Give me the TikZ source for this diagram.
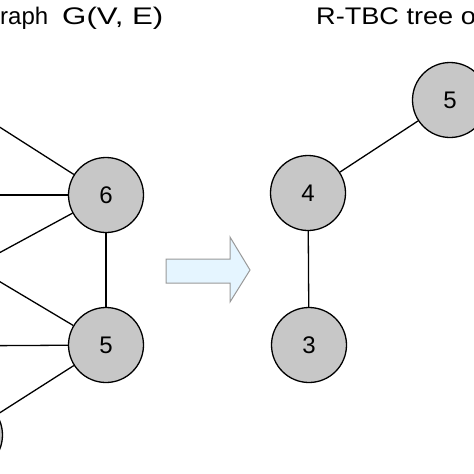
\documentclass[tikz,border=0pt]{standalone}
\usepackage{fontspec}
\setmainfont{Liberation Sans}
\begin{document}
\begin{tikzpicture}[x=1pt,y=-1pt,
        vertex/.style = {circle,draw=black,line width=1.3pt,fill=black!22,
                         minimum size=75pt,inner sep=0pt,font=\fontsize{24}{28}\selectfont},
        edge/.style = {line width=1.3pt},
        title/.style = {inner sep=0pt,font=\fontsize{24}{29}\selectfont}]
                \useasboundingbox (0,0) rectangle (474,474);
                \clip (0,0) rectangle (474,474);

                % titles
                \node[title,anchor=base west] (lefttitle) at (0,24)
                    {raph\hspace{14pt}\scalebox{1.3}[1]{G(V, E)}};
                \node[title,anchor=base west] (righttitle) at (316,24)
                    {\scalebox{1.13}[1]{R-TBC tree o}};

                % left graph
                \coordinate (l1) at (-60,89);
                \coordinate (l2) at (-60,195);
                \coordinate (l3) at (-60,285);
                \coordinate (l4) at (-60,246);
                \coordinate (l5) at (-60,346);
                \node[vertex] (g7) at (-35,435) {};
                \node[vertex] (g6) at (106,195) {6};
                \node[vertex] (g5) at (106,345) {5};
                \draw[edge] (l1) -- (g6);
                \draw[edge] (l2) -- (g6);
                \draw[edge] (l3) -- (g6);
                \draw[edge] (l4) -- (g5);
                \draw[edge] (l5) -- (g5);
                \draw[edge] (g7) -- (g5);
                \draw[edge] (g6) -- (g5);

                % arrow
                \draw[draw=black!40,line width=1pt,fill=blue!40!cyan!10,line join=miter]
                    (166,259) -- (230,259) -- (230,237) -- (250,270)
                    -- (230,302) -- (230,283) -- (166,283) -- cycle;

                % R-TBC tree
                \node[vertex] (t5) at (450,100) {5};
                \node[vertex] (t4) at (308,193) {4};
                \node[vertex] (t3) at (309,345) {3};
                \draw[edge] (t5) -- (t4);
                \draw[edge] (t4) -- (t3);
            \end{tikzpicture}
\end{document}
